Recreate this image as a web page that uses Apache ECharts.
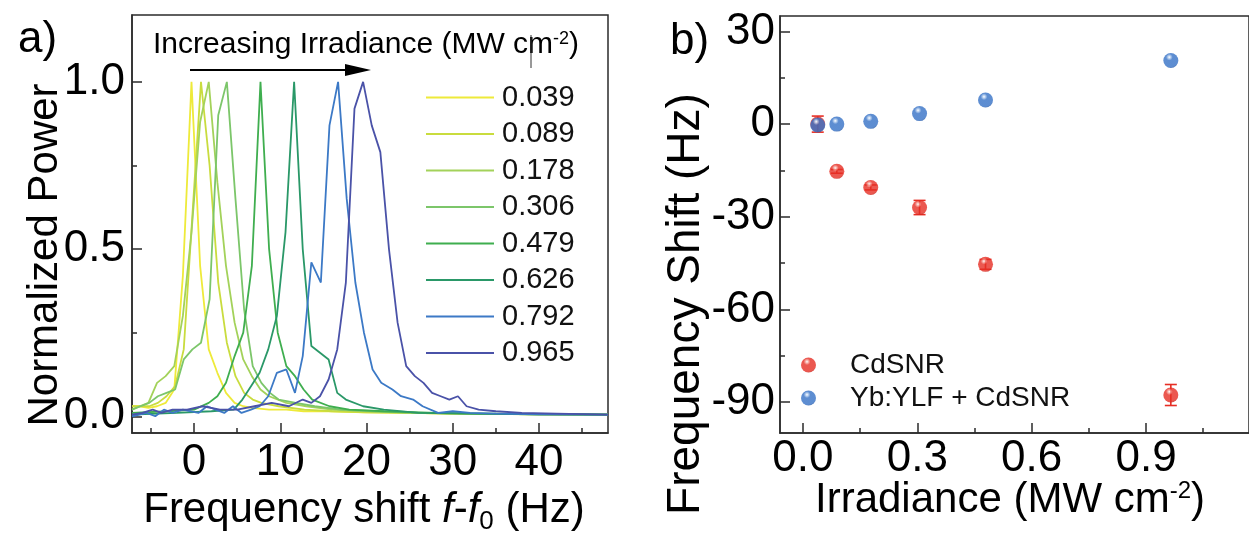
<!DOCTYPE html>
<html>
<head>
<meta charset="utf-8">
<script src="https://cdn.jsdelivr.net/npm/echarts@6/dist/echarts.min.js"></script>
<style>
html,body{margin:0;padding:0;background:#fff;}
#chart{width:1249px;height:538px;}
</style>
</head>
<body>
<div id="chart"></div>
<script>
// ---------- Panel a: normalized power spectra ----------
const irradianceLabels = ['0.039','0.089','0.178','0.306','0.479','0.626','0.792','0.965'];
const lineColors = ['#eeea3a','#c9dc3e','#a3d25a','#7cc66a','#3fae4f','#2a9868','#3c79c6','#4a52a8'];

const spec0039 = [[-7.2,0.03],[-6.3,0.03],[-5.3,0.025],[-4.3,0.03],[-3.3,0.04],[-2.3,0.08],[-1.3,0.42],[-0.3,1.0],[0.7,0.45],[1.7,0.2],[2.7,0.13],[3.7,0.07],[4.7,0.04],[5.7,0.03],[6.7,0.025],[8.7,0.02],[10.7,0.02],[12.7,0.015],[15.7,0.015],[19.7,0.012],[24.7,0.01],[29.7,0.008],[35,0.007],[40,0.006],[48,0.005]];
const spec0089 = [[-7.2,0.03],[-5.2,0.03],[-4.2,0.04],[-3.2,0.06],[-2.2,0.09],[-1.2,0.2],[-0.2,0.6],[0.8,1.0],[1.8,0.75],[2.8,0.4],[3.8,0.22],[4.8,0.12],[5.8,0.07],[6.8,0.05],[7.8,0.04],[9.8,0.03],[12.8,0.02],[16,0.015],[20,0.012],[25,0.01],[30,0.008],[40,0.006],[48,0.005]];
const spec0178 = [[-7.2,0.02],[-6.3,0.03],[-5.3,0.04],[-4.3,0.1],[-3.3,0.12],[-2.3,0.15],[-1.3,0.3],[-0.3,0.55],[0.7,0.88],[1.7,1.0],[2.7,0.7],[3.7,0.45],[4.7,0.28],[5.7,0.17],[6.7,0.12],[7.7,0.08],[8.7,0.06],[10.7,0.04],[13,0.03],[16,0.02],[20,0.015],[25,0.01],[30,0.008],[40,0.006],[48,0.005]];
const spec0306 = [[-7.2,0.02],[-6.2,0.03],[-5.2,0.04],[-4.2,0.06],[-3.2,0.07],[-2.2,0.08],[-1.2,0.17],[-0.2,0.2],[0.8,0.22],[1.8,0.35],[2.8,0.9],[3.8,1.0],[4.8,0.65],[5.8,0.32],[6.8,0.15],[7.8,0.1],[8.8,0.07],[9.8,0.05],[11.8,0.04],[14,0.03],[17,0.02],[21,0.015],[26,0.01],[32,0.008],[40,0.006],[48,0.005]];
const spec0479 = [[-7.2,0.01],[-3,0.015],[0,0.02],[1.7,0.04],[2.7,0.06],[3.7,0.1],[4.7,0.18],[5.7,0.25],[6.7,0.45],[7.7,1.0],[8.7,0.5],[9.7,0.25],[10.7,0.15],[11.7,0.12],[12.7,0.08],[13.7,0.05],[15.7,0.03],[18,0.02],[22,0.015],[28,0.01],[35,0.008],[48,0.005]];
const spec0626 = [[-7.2,0.005],[-2,0.01],[2,0.015],[4.6,0.02],[5.6,0.05],[6.6,0.09],[7.6,0.13],[8.6,0.2],[9.6,0.3],[10.6,0.55],[11.6,1.0],[12.6,0.5],[13.6,0.21],[14.6,0.19],[15.6,0.17],[16.6,0.07],[17.6,0.05],[19.6,0.03],[22,0.02],[26,0.01],[32,0.008],[40,0.006],[48,0.005]];
const spec0792 = [[-7.2,0.0],[-5.5,0.01],[-4.5,0.0],[-3.5,0.02],[-2.5,0.01],[-1.3,0.02],[0.5,0.01],[1.5,0.03],[2.5,0.02],[3.5,0.01],[4.5,0.03],[5.5,0.01],[6.6,0.02],[7.6,0.03],[8.6,0.06],[9.6,0.13],[10.7,0.14],[11.7,0.07],[12.6,0.18],[13.6,0.46],[14.7,0.4],[15.7,0.87],[16.7,1.0],[17.7,0.65],[18.7,0.4],[19.7,0.25],[20.7,0.14],[21.7,0.1],[23,0.08],[24,0.06],[25.4,0.05],[26.5,0.03],[28.3,0.01],[30,0.015],[32,0.01],[35,0.008],[40,0.006],[48,0.005]];
const spec0965 = [[-7.2,0.005],[-6,0.01],[-4.8,0.02],[-3.8,0.01],[-2.5,0.02],[-0.8,0.02],[1,0.03],[3,0.02],[5,0.02],[7,0.03],[9,0.04],[11,0.03],[12.6,0.05],[13.6,0.04],[14.6,0.06],[15.6,0.11],[16.6,0.2],[17.6,0.4],[18.6,0.92],[19.6,1.0],[20.6,0.87],[21.6,0.79],[22.6,0.5],[23.6,0.28],[24.6,0.15],[25.6,0.12],[26.6,0.1],[27.6,0.07],[28.6,0.06],[29.6,0.05],[30.6,0.06],[31.6,0.03],[33,0.02],[35,0.015],[38,0.01],[42,0.008],[48,0.005]];
const spectra = [spec0039,spec0089,spec0178,spec0306,spec0479,spec0626,spec0792,spec0965];

const freqTicks = [0,10,20,30,40];
const freqMinorTicks = [-5,5,15,25,35,45];
const powerTicks = [0,0.5,1.0];
const powerMinorTicks = [0.25,0.75];

// ---------- Panel b: frequency shift vs irradiance ----------
const irradiance = [0.039,0.089,0.178,0.306,0.479,0.965];
const shiftCdSNR = [0,-15.3,-20.5,-27,-45.4,-87.7];
const errCdSNR = [2.6,0.6,0.8,2.3,1.6,3.4];
const shiftYbYLF = [-0.3,0,0.9,3.4,7.8,20.6];

const irrTicks = [0,0.3,0.6,0.9];
const irrMinorTicks = [0.15,0.45,0.75,1.05];
const shiftTicks = [-90,-60,-30,0,30];
const shiftMinorTicks = [-75,-45,-15,15];

const FONT = 'Liberation Sans, Arial, Helvetica, sans-serif';
const AX = '#2b2b2b';

function ball(base, light, dark){
  return {type:'radial', x:0.4, y:0.28, r:0.8, colorStops:[
    {offset:0,color:'#ffffff'},{offset:0.1,color:light},{offset:0.28,color:base},{offset:0.8,color:base},{offset:1,color:dark}]};
}

const chart = echarts.init(document.getElementById('chart'));

function mkAxis(gridIndex, min, max, ticks, fmt, isX, labelMargin, major){
  return {
    type:'value', gridIndex, min, max,
    position: isX ? 'bottom' : 'left',
    axisLine:{show: major, onZero:false, lineStyle:{color:AX, width:1.5}},
    splitLine:{show:false},
    axisTick:{show:true, inside:true, length: major ? 10 : 5, customValues: ticks, lineStyle:{color:AX, width:1.5}},
    axisLabel:{show: major, customValues: ticks, formatter: fmt, fontSize:44, fontFamily:FONT, color:'#000', margin:labelMargin}
  };
}

const lineSeries = spectra.map((d,i)=>({
  type:'line', name: irradianceLabels[i], xAxisIndex:0, yAxisIndex:0,
  data:d, symbol:'none', smooth:false,
  lineStyle:{color:lineColors[i], width:1.8}, itemStyle:{color:lineColors[i]}, z: 2
}));

const redBall = ball('#e62e24','#f7b0a8','#b81e16');
const blueBall = ball('#3571c6','#b3cdef','#23519c');

const option = {
  animation:false,
  backgroundColor:'#fff',
  grid:[
    {left:132, top:15, width:476, height:418, show:true, borderColor:AX, borderWidth:1.5, backgroundColor:'transparent'},
    {left:780, top:16, width:510, height:417, show:true, borderColor:AX, borderWidth:1.5, backgroundColor:'transparent'}
  ],
  xAxis:[
    mkAxis(0,-7.2,48,freqTicks,v=>String(v),true,8,true),
    mkAxis(0,-7.2,48,freqMinorTicks,v=>String(v),true,8,false),
    mkAxis(1,-0.06,1.17,irrTicks,v=>v.toFixed(1),true,4,true),
    mkAxis(1,-0.06,1.17,irrMinorTicks,v=>v.toFixed(1),true,4,false)
  ],
  yAxis:[
    mkAxis(0,-0.05,1.2,powerTicks,v=>v.toFixed(1),false,7,true),
    mkAxis(0,-0.05,1.2,powerMinorTicks,v=>v.toFixed(1),false,7,false),
    mkAxis(1,-100,35,shiftTicks,v=>String(v),false,5,true),
    mkAxis(1,-100,35,shiftMinorTicks,v=>String(v),false,5,false)
  ],
  legend:[
    {orient:'vertical', left:421, top:78, itemWidth:68, itemHeight:2, itemGap:7.5,
     data:irradianceLabels, icon:'rect', textStyle:{fontSize:29, fontFamily:FONT, color:'#111', padding:[0,0,0,3]}, selectedMode:false},
    {orient:'vertical', left:796, top:346, itemWidth:15, itemHeight:15, itemGap:5,
     data:['CdSNR','Yb:YLF + CdSNR'], icon:'circle', textStyle:{fontSize:28, fontFamily:FONT, color:'#111', padding:[0,0,0,29]}, selectedMode:false}
  ],
  series:[
    ...lineSeries,
    {type:'custom', name:'CdSNR err', xAxisIndex:2, yAxisIndex:2, z:3,
     data: irradiance.map((x,i)=>[x, shiftCdSNR[i]-errCdSNR[i], shiftCdSNR[i]+errCdSNR[i]]),
     encode:{x:0, y:[1,2]},
     renderItem:function(params, api){
       const x = api.value(0);
       const p1 = api.coord([x, api.value(1)]);
       const p2 = api.coord([x, api.value(2)]);
       const w = 6, st = {stroke:'#e62e24', lineWidth:1.6};
       return {type:'group', children:[
         {type:'line', shape:{x1:p1[0],y1:p1[1],x2:p2[0],y2:p2[1]}, style:st},
         {type:'line', shape:{x1:p1[0]-w,y1:p1[1],x2:p1[0]+w,y2:p1[1]}, style:st},
         {type:'line', shape:{x1:p2[0]-w,y1:p2[1],x2:p2[0]+w,y2:p2[1]}, style:st}
       ]};
     }},
    {type:'scatter', name:'CdSNR', xAxisIndex:2, yAxisIndex:2, z:4,
     data: irradiance.map((x,i)=>[x, shiftCdSNR[i]]), symbol:'circle', symbolSize:15,
     itemStyle:{color:redBall}},
    {type:'scatter', name:'Yb:YLF + CdSNR', xAxisIndex:2, yAxisIndex:2, z:5,
     data: irradiance.map((x,i)=>[x, shiftYbYLF[i]]), symbol:'circle', symbolSize:15,
     itemStyle:{color:blueBall}}
  ],
  graphic:[
    {type:'text', left:18, top:18, style:{text:'a)', font:'44px '+FONT, fill:'#000'}},
    {type:'text', left:670, top:20, style:{text:'b)', font:'44px '+FONT, fill:'#000'}},
    {type:'text', x:45, y:255, rotation:Math.PI/2,
     style:{text:'Normalized Power', font:'42px '+FONT, fill:'#000', align:'center', verticalAlign:'middle'}},
    {type:'text', x:686, y:304, rotation:Math.PI/2,
     style:{text:'Frequency Shift (Hz)', font:'46px '+FONT, fill:'#000', align:'center', verticalAlign:'middle'}},
    {type:'text', x:364, y:510,
     style:{text:'{n|Frequency shift }{i|f}{n|-}{i|f}{s|0}{n| (Hz)}', align:'center', verticalAlign:'middle',
       rich:{n:{fontSize:42, fontFamily:FONT, color:'#000'}, i:{fontSize:42, fontFamily:FONT, fontStyle:'italic', color:'#000'},
             s:{fontSize:26, fontFamily:FONT, color:'#000', verticalAlign:'bottom', padding:[24,0,0,0]}}}},
    {type:'text', x:1010, y:500,
     style:{text:'{n|Irradiance (MW cm}{s|-2}{n|)}', align:'center', verticalAlign:'middle',
       rich:{n:{fontSize:42, fontFamily:FONT, color:'#000'}, s:{fontSize:24, fontFamily:FONT, color:'#000', verticalAlign:'top'}}}},
    {type:'text', x:153, y:45,
     style:{text:'{n|Increasing Irradiance (MW cm}{s|-2}{n|)}', align:'left', verticalAlign:'middle',
       rich:{n:{fontSize:30, fontFamily:FONT, color:'#000'}, s:{fontSize:18, fontFamily:FONT, color:'#000', verticalAlign:'top'}}}},
    {type:'line', shape:{x1:531,y1:35,x2:531,y2:68}, style:{stroke:'#333', lineWidth:1}},
    {type:'line', shape:{x1:190,y1:70,x2:348,y2:70}, style:{stroke:'#000', lineWidth:2}},
    {type:'polygon', shape:{points:[[345,64],[371,70],[345,76]]}, style:{fill:'#000'}}
  ]
};
chart.setOption(option);
</script>
</body>
</html>
